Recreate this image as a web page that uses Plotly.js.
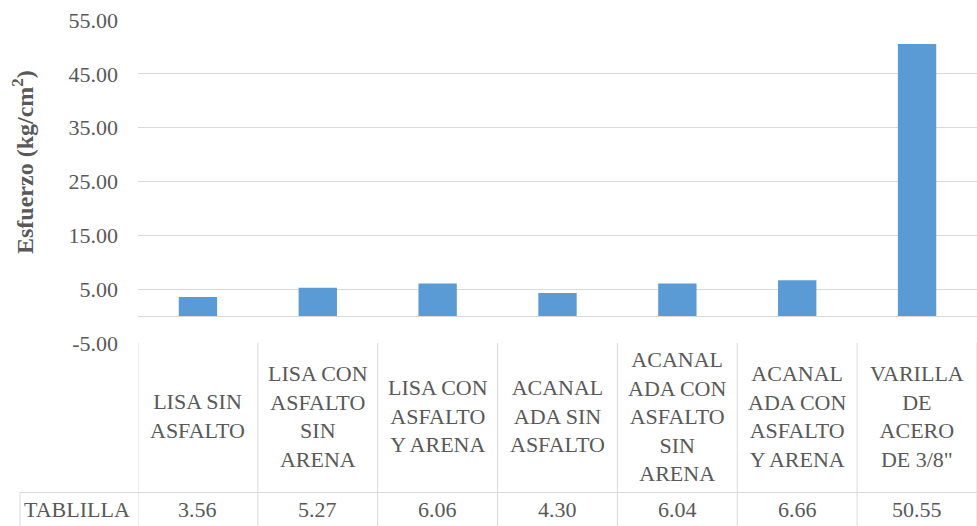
<!DOCTYPE html>
<html>
<head>
<meta charset="utf-8">
<script src="https://cdn.plot.ly/plotly-3.0.1.min.js"></script>
<style>
  html, body { margin: 0; padding: 0; background: #fff; font-family: "Liberation Serif", serif; }
  #chart { width: 977px; height: 526px; }
</style>
</head>
<body>
<div id="chart"></div>
<script>
// Categories (multi-line labels for the data table) and measured stress values
const categories = [
  "LISA SIN<br>ASFALTO",
  "LISA CON<br>ASFALTO<br>SIN<br>ARENA",
  "LISA CON<br>ASFALTO<br>Y ARENA",
  "ACANAL<br>ADA SIN<br>ASFALTO",
  "ACANAL<br>ADA CON<br>ASFALTO<br>SIN<br>ARENA",
  "ACANAL<br>ADA CON<br>ASFALTO<br>Y ARENA",
  "VARILLA<br>DE<br>ACERO<br>DE 3/8\""
];
const seriesName = "TABLILLA";
const esfuerzo = [3.56, 5.27, 6.06, 4.30, 6.04, 6.66, 50.55];
const yTicks = [-5, 5, 15, 25, 35, 45, 55];
const yTickText = yTicks.map(v => v.toFixed(2));

const FONT = "Liberation Serif, serif";
const TEXT = "#595959";
const GRID = "#d9d9d9";
const FS = 22;

const W = 977, H = 526;
const M = { l: 138, r: 0, t: 20, b: 183 };
const plotH = H - M.t - M.b;
const plotW = W - M.l - M.r;
// pixel row -> paper y
const py = px => (H - M.b - px) / plotH;
// pixel column -> paper x
const pxX = px => (px - M.l) / plotW;

function draw() {
  const xs = categories.map((_, i) => i);

  const shapes = [];
  const lineStyle = { color: GRID, width: 1 };
  // vertical cell borders of the data table
  for (let i = 0; i <= categories.length; i++) {
    shapes.push({ type: "line", xref: "x", yref: "paper",
      x0: i - 0.5, x1: i - 0.5, y0: 0, y1: py(530), line: lineStyle });
  }
  // row separator between labels and values, extended under the series header
  shapes.push({ type: "line", xref: "paper", yref: "paper",
    x0: pxX(20), x1: 1, y0: py(492.5), y1: py(492.5), line: lineStyle });
  // left border of the series header cell
  shapes.push({ type: "line", xref: "paper", yref: "paper",
    x0: pxX(20), x1: pxX(20), y0: py(492.5), y1: py(530), line: lineStyle });

  const annotations = [];
  categories.forEach((c, i) => {
    annotations.push({ xref: "x", yref: "paper", x: i, y: py(416),
      text: c, showarrow: false, xanchor: "center", yanchor: "middle",
      align: "center", font: { family: FONT, size: FS, color: TEXT } });
    annotations.push({ xref: "x", yref: "paper", x: i, y: py(509),
      text: esfuerzo[i].toFixed(2), showarrow: false, xanchor: "center", yanchor: "middle",
      font: { family: FONT, size: FS, color: TEXT } });
  });
  annotations.push({ xref: "paper", yref: "paper", x: pxX(77), y: py(509),
    text: seriesName, showarrow: false, xanchor: "center", yanchor: "middle",
    font: { family: FONT, size: FS, color: TEXT } });
  // vertical axis title
  annotations.push({ xref: "paper", yref: "paper", x: pxX(23), y: py(162),
    text: "<b>Esfuerzo (kg/cm<sup>2</sup>)</b>", textangle: -90, showarrow: false,
    xanchor: "center", yanchor: "middle",
    font: { family: FONT, size: 24, color: TEXT } });

  const data = [{
    type: "bar",
    x: xs,
    y: esfuerzo,
    name: seriesName,
    width: 0.32,
    marker: { color: "#5B9BD5", line: { width: 0 } },
    hoverinfo: "y"
  }];

  const layout = {
    width: W, height: H,
    margin: M,
    paper_bgcolor: "#ffffff",
    plot_bgcolor: "#ffffff",
    showlegend: false,
    font: { family: FONT, color: TEXT },
    xaxis: {
      range: [-0.5, categories.length - 0.5],
      showticklabels: false, showgrid: false, zeroline: false,
      showline: false, ticks: "", fixedrange: true
    },
    yaxis: {
      range: [-5, 55],
      tickmode: "array",
      tickvals: yTicks,
      ticktext: yTickText,
      showgrid: true, gridcolor: GRID, gridwidth: 1,
      zeroline: true, zerolinecolor: GRID, zerolinewidth: 1,
      showline: false, ticks: "",
      ticklabelstandoff: 19,
      tickfont: { family: FONT, size: FS, color: TEXT },
      fixedrange: true
    },
    shapes: shapes,
    annotations: annotations
  };

  Plotly.newPlot("chart", data, layout, { displayModeBar: false, staticPlot: true });
}

// make sure the serif face is ready before text is measured and drawn
if (document.fonts && document.fonts.load) {
  Promise.all([
    document.fonts.load('22px "Liberation Serif"'),
    document.fonts.load('bold 24px "Liberation Serif"')
  ]).then(draw, draw);
} else {
  draw();
}
</script>
</body>
</html>
